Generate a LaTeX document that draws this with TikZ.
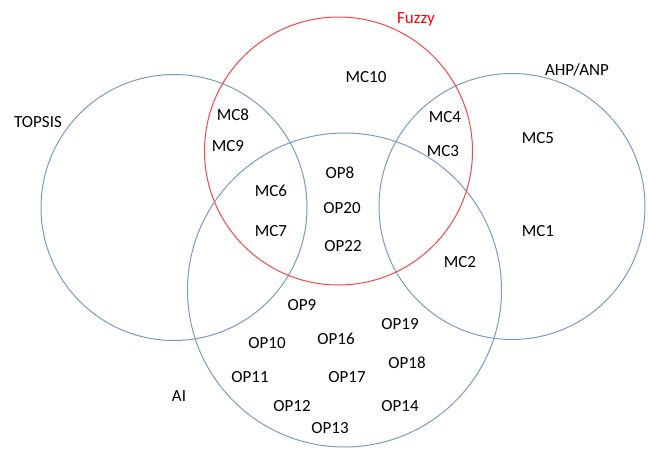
\documentclass[tikz,border=0pt]{standalone}
\usepackage{fontspec}
\setmainfont{Carlito}
\definecolor{circblue}{RGB}{120,155,195}
\definecolor{circred}{RGB}{245,70,70}
\begin{document}
\begin{tikzpicture}[x=1pt,y=-1pt,
  setc/.style={circle,draw=circblue,line width=1pt,inner sep=0pt},
  fuzc/.style={circle,draw=circred,line width=1pt,inner sep=0pt},
  lbl/.style={font=\fontsize{17}{19}\selectfont,inner sep=0pt,anchor=center}]
\useasboundingbox (0,0) rectangle (649,448);
\node[setc,minimum size=266pt] (topsis) at (174,207.5) {};
\node[setc,minimum size=266pt] (ahp) at (512,206.5) {};
\node[setc,minimum size=314pt] (ai) at (344.5,290) {};
\node[fuzc,minimum size=268pt] (fuzzy) at (338.5,151) {};
\node[lbl] (tTOPSIS) at (38,122) {TOPSIS};
\node[lbl,text=red] (tFuzzy) at (416,19) {Fuzzy};
\node[lbl] (tAHP) at (577,70) {AHP/ANP};
\node[lbl] (tAI) at (179,396) {AI};
\node[lbl] (mc8) at (233,115) {MC8};
\node[lbl] (mc9) at (228,146) {MC9};
\node[lbl] (mc6) at (271,191) {MC6};
\node[lbl] (mc7) at (271,231) {MC7};
\node[lbl] (mc10) at (366,77) {MC10};
\node[lbl] (mc4) at (445,117) {MC4};
\node[lbl] (mc3) at (443,151) {MC3};
\node[lbl] (mc5) at (538,138) {MC5};
\node[lbl] (mc1) at (538,231) {MC1};
\node[lbl] (mc2) at (460,262) {MC2};
\node[lbl] (op8) at (340,173) {OP8};
\node[lbl] (op20) at (342,208) {OP20};
\node[lbl] (op22) at (343,246) {OP22};
\node[lbl] (op9) at (302,305) {OP9};
\node[lbl] (op10) at (267,343) {OP10};
\node[lbl] (op16) at (336,339) {OP16};
\node[lbl] (op19) at (400,324) {OP19};
\node[lbl] (op11) at (250,377) {OP11};
\node[lbl] (op17) at (347,377) {OP17};
\node[lbl] (op18) at (407,363) {OP18};
\node[lbl] (op12) at (292,406) {OP12};
\node[lbl] (op14) at (400,406) {OP14};
\node[lbl] (op13) at (330,428) {OP13};
\end{tikzpicture}
\end{document}
